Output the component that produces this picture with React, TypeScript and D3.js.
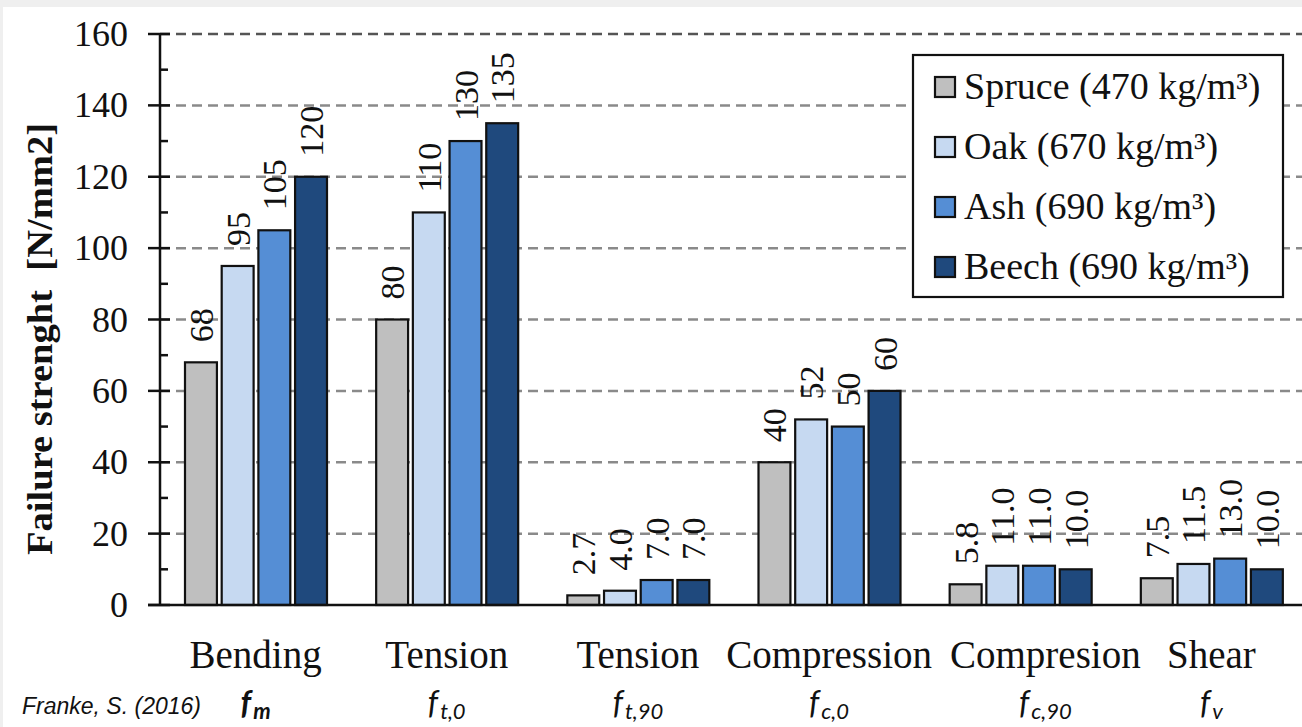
import React from "react";
import * as d3 from "d3";

const categories = ["Bending", "Tension", "Tension", "Compression", "Compresion", "Shear"];
const symbolSubs = ["m", "t,0", "t,90", "c,0", "c,90", "v"];
const labelDecimals = [0, 0, 1, 0, 1, 1];
const seriesNames = ["Spruce (470 kg/m³)", "Oak (670 kg/m³)", "Ash (690 kg/m³)", "Beech (690 kg/m³)"];
const seriesColors = ["#bfbfbf", "#c6d9f1", "#558ed5", "#1f497d"];
const spruce = [68, 80, 2.7, 40, 5.8, 7.5];
const oak = [95, 110, 4.0, 52, 11.0, 11.5];
const ash = [105, 130, 7.0, 50, 11.0, 13.0];
const beech = [120, 135, 7.0, 60, 10.0, 10.0];
const yTicks = [0, 20, 40, 60, 80, 100, 120, 140, 160];
const yMinorTicks = [10, 30, 50, 70, 90, 110, 130, 150];
const yLabel = "Failure strenght  [N/mm2]";
const source = "Franke, S. (2016)";

const W = 1302;
const H = 727;
const SERIF = "'Liberation Serif', 'Times New Roman', serif";
const SANS_IT = "Lato, 'Open Sans', sans-serif";
const CAT_FONT = 39;

function measure(text: string, font: string): number {
  try {
    const ctx = document.createElement("canvas").getContext("2d");
    if (!ctx) return text.length * 18;
    ctx.font = font;
    return ctx.measureText(text).width;
  } catch (e) {
    return text.length * 18;
  }
}

export default function App() {
  const allSeries = [spruce, oak, ash, beech];
  const y = d3.scaleLinear().domain([0, 160]).range([605, 34]);
  const x0 = d3.scaleBand<number>().domain(d3.range(categories.length)).range([160, 1307]).padding(0);
  const x1 = d3
    .scaleBand<number>()
    .domain(d3.range(seriesNames.length))
    .range([25, 167])
    .paddingInner(0.13)
    .paddingOuter(0);
  const bw = x1.bandwidth();

  // category label centres, nudged right to avoid overlaps (like the spreadsheet did)
  const centers = categories.map((c, ci) => (x0(ci) as number) + x0.bandwidth() / 2);
  const widths = categories.map((c) => measure(c, `${CAT_FONT}px 'Liberation Serif'`));
  const labelCx: number[] = [];
  centers.forEach((cx, i) => {
    let c = cx;
    if (i > 0) {
      const prevRight = labelCx[i - 1] + widths[i - 1] / 2;
      const minLeft = prevRight + 18;
      if (c - widths[i] / 2 < minLeft) c = minLeft + widths[i] / 2;
    }
    labelCx.push(c);
  });

  return (
    <div style={{ position: "fixed", left: 0, top: 0 }}>
      <svg width={W} height={H} style={{ display: "block", background: "#fff" }}>
        <rect x={0} y={0} width={W} height={H} fill="#fff" />
        <rect x={0} y={0} width={W} height={7} fill="#efefef" />
        <rect x={0} y={0} width={3} height={H} fill="#efefef" />

        {/* gridlines */}
        {yTicks
          .filter((t) => t > 0)
          .map((t) => (
            <line
              key={"g" + t}
              x1={160}
              x2={1302}
              y1={y(t)}
              y2={y(t)}
              stroke={t === 160 ? "#555" : "#8a8a8a"}
              strokeWidth={2.5}
              strokeDasharray="10 6"
            />
          ))}

        {/* bars */}
        {categories.map((c, ci) =>
          allSeries.map((s, si) => {
            const bx = (x0(ci) as number) + (x1(si) as number);
            const v = s[ci];
            const top = y(v);
            return (
              <g key={"b" + ci + "-" + si}>
                <rect
                  x={bx}
                  y={top}
                  width={bw}
                  height={y(0) - top}
                  fill={seriesColors[si]}
                  stroke="#111"
                  strokeWidth={2.2}
                />
                <text
                  transform={`translate(${bx + bw / 2},${top - 20}) rotate(-90)`}
                  y={12}
                  fontFamily={SERIF}
                  fontSize={34}
                  fill="#111"
                  textAnchor="start"
                >
                  {v.toFixed(labelDecimals[ci])}
                </text>
              </g>
            );
          })
        )}

        {/* axes */}
        <line x1={160} x2={160} y1={y(160)} y2={y(0)} stroke="#111" strokeWidth={2.5} />
        <line x1={148} x2={1302} y1={y(0)} y2={y(0)} stroke="#111" strokeWidth={2.5} />
        {yTicks.map((t) => (
          <g key={"t" + t}>
            <line x1={148} x2={170} y1={y(t)} y2={y(t)} stroke="#111" strokeWidth={2.5} />
            <text
              x={128}
              y={y(t) + 12}
              textAnchor="end"
              fontFamily={SERIF}
              fontSize={36}
              fill="#111"
            >
              {t}
            </text>
          </g>
        ))}
        {yMinorTicks.map((t) => (
          <line key={"m" + t} x1={160} x2={168} y1={y(t)} y2={y(t)} stroke="#111" strokeWidth={2.5} />
        ))}

        {/* y label */}
        <text
          transform={`translate(52,339) rotate(-90)`}
          textAnchor="middle"
          fontFamily={SERIF}
          fontWeight="bold"
          fontSize={35}
          fill="#111"
          textLength={432}
          lengthAdjust="spacingAndGlyphs"
          style={{ whiteSpace: "pre" }}
        >
          {yLabel}
        </text>

        {/* category labels */}
        {categories.map((c, ci) => {
          const cx = labelCx[ci];
          const bold = ci === 0;
          return (
            <g key={"c" + ci}>
              <text x={cx} y={668} textAnchor="middle" fontFamily={SERIF} fontSize={CAT_FONT} fill="#111">
                {c}
              </text>
              <text
                x={cx}
                y={714}
                textAnchor="middle"
                fontFamily={SANS_IT}
                fontStyle="italic"
                fontWeight={bold ? "bold" : "normal"}
                fill="#111"
              >
                <tspan fontSize={32}>f</tspan>
                <tspan fontSize={22} dy={5} dx={2}>
                  {symbolSubs[ci]}
                </tspan>
              </text>
            </g>
          );
        })}

        {/* source */}
        <text
          x={22}
          y={714}
          fontFamily="'Liberation Sans', Arial, sans-serif"
          fontStyle="italic"
          fontSize={23}
          fill="#111"
        >
          {source}
        </text>

        {/* legend */}
        <rect x={913} y={55} width={370} height={242} fill="#fff" stroke="#111" strokeWidth={2.2} />
        {seriesNames.map((n, i) => {
          const cy = 87 + i * 60;
          return (
            <g key={"l" + i}>
              <rect x={935} y={cy - 10} width={20} height={20} fill={seriesColors[i]} stroke="#111" strokeWidth={2.2} />
              <text x={964} y={cy + 12} fontFamily={SERIF} fontSize={38} fill="#111">
                {n}
              </text>
            </g>
          );
        })}
      </svg>
    </div>
  );
}
